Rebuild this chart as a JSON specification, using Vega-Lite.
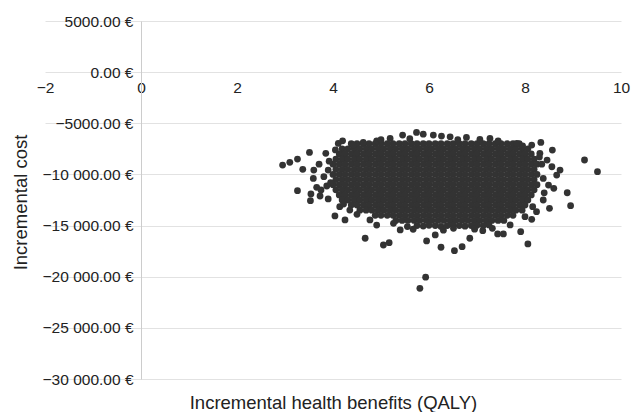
{
"$schema": "https://vega.github.io/schema/vega-lite/v6.json",
"width": 576,
"height": 358,
"autosize": {"type": "none"},
"padding": {"left": 45, "top": 21, "right": 12, "bottom": 33},
"background": "white",
"config": {"view": {"stroke": null}, "font": "Liberation Sans"},
"data": {"values": [
{"qaly":4.38,"cost":-7000},{"qaly":4.5,"cost":-7000},{"qaly":4.63,"cost":-7000},{"qaly":4.75,"cost":-7000},{"qaly":4.88,"cost":-7000},{"qaly":5.0,"cost":-7000},{"qaly":5.13,"cost":-7000},{"qaly":5.25,"cost":-7000},{"qaly":5.38,"cost":-7000},{"qaly":5.5,"cost":-7000},{"qaly":5.63,"cost":-7000},{"qaly":5.75,"cost":-7000},{"qaly":5.88,"cost":-7000},{"qaly":6.0,"cost":-7000},{"qaly":6.13,"cost":-7000},{"qaly":6.25,"cost":-7000},{"qaly":6.38,"cost":-7000},{"qaly":6.5,"cost":-7000},{"qaly":6.63,"cost":-7000},{"qaly":6.75,"cost":-7000},{"qaly":6.88,"cost":-7000},{"qaly":7.0,"cost":-7000},{"qaly":7.13,"cost":-7000},{"qaly":7.25,"cost":-7000},{"qaly":7.38,"cost":-7000},{"qaly":7.5,"cost":-7000},{"qaly":7.63,"cost":-7000},{"qaly":7.75,"cost":-7000},{"qaly":7.88,"cost":-7000},
{"qaly":4.19,"cost":-7500},{"qaly":4.31,"cost":-7500},{"qaly":4.44,"cost":-7500},{"qaly":4.56,"cost":-7500},{"qaly":4.69,"cost":-7500},{"qaly":4.81,"cost":-7500},{"qaly":4.94,"cost":-7500},{"qaly":5.06,"cost":-7500},{"qaly":5.19,"cost":-7500},{"qaly":5.31,"cost":-7500},{"qaly":5.44,"cost":-7500},{"qaly":5.56,"cost":-7500},{"qaly":5.69,"cost":-7500},{"qaly":5.81,"cost":-7500},{"qaly":5.94,"cost":-7500},{"qaly":6.06,"cost":-7500},{"qaly":6.19,"cost":-7500},{"qaly":6.31,"cost":-7500},{"qaly":6.44,"cost":-7500},{"qaly":6.56,"cost":-7500},{"qaly":6.69,"cost":-7500},{"qaly":6.81,"cost":-7500},{"qaly":6.94,"cost":-7500},{"qaly":7.06,"cost":-7500},{"qaly":7.19,"cost":-7500},{"qaly":7.31,"cost":-7500},{"qaly":7.44,"cost":-7500},{"qaly":7.56,"cost":-7500},{"qaly":7.69,"cost":-7500},{"qaly":7.81,"cost":-7500},{"qaly":7.94,"cost":-7500},{"qaly":8.06,"cost":-7500},
{"qaly":4.13,"cost":-8000},{"qaly":4.25,"cost":-8000},{"qaly":4.38,"cost":-8000},{"qaly":4.5,"cost":-8000},{"qaly":4.63,"cost":-8000},{"qaly":4.75,"cost":-8000},{"qaly":4.88,"cost":-8000},{"qaly":5.0,"cost":-8000},{"qaly":5.13,"cost":-8000},{"qaly":5.25,"cost":-8000},{"qaly":5.38,"cost":-8000},{"qaly":5.5,"cost":-8000},{"qaly":5.63,"cost":-8000},{"qaly":5.75,"cost":-8000},{"qaly":5.88,"cost":-8000},{"qaly":6.0,"cost":-8000},{"qaly":6.13,"cost":-8000},{"qaly":6.25,"cost":-8000},{"qaly":6.38,"cost":-8000},{"qaly":6.5,"cost":-8000},{"qaly":6.63,"cost":-8000},{"qaly":6.75,"cost":-8000},{"qaly":6.88,"cost":-8000},{"qaly":7.0,"cost":-8000},{"qaly":7.13,"cost":-8000},{"qaly":7.25,"cost":-8000},{"qaly":7.38,"cost":-8000},{"qaly":7.5,"cost":-8000},{"qaly":7.63,"cost":-8000},{"qaly":7.75,"cost":-8000},{"qaly":7.88,"cost":-8000},{"qaly":8.0,"cost":-8000},{"qaly":8.13,"cost":-8000},
{"qaly":4.06,"cost":-8500},{"qaly":4.19,"cost":-8500},{"qaly":4.31,"cost":-8500},{"qaly":4.44,"cost":-8500},{"qaly":4.56,"cost":-8500},{"qaly":4.69,"cost":-8500},{"qaly":4.81,"cost":-8500},{"qaly":4.94,"cost":-8500},{"qaly":5.06,"cost":-8500},{"qaly":5.19,"cost":-8500},{"qaly":5.31,"cost":-8500},{"qaly":5.44,"cost":-8500},{"qaly":5.56,"cost":-8500},{"qaly":5.69,"cost":-8500},{"qaly":5.81,"cost":-8500},{"qaly":5.94,"cost":-8500},{"qaly":6.06,"cost":-8500},{"qaly":6.19,"cost":-8500},{"qaly":6.31,"cost":-8500},{"qaly":6.44,"cost":-8500},{"qaly":6.56,"cost":-8500},{"qaly":6.69,"cost":-8500},{"qaly":6.81,"cost":-8500},{"qaly":6.94,"cost":-8500},{"qaly":7.06,"cost":-8500},{"qaly":7.19,"cost":-8500},{"qaly":7.31,"cost":-8500},{"qaly":7.44,"cost":-8500},{"qaly":7.56,"cost":-8500},{"qaly":7.69,"cost":-8500},{"qaly":7.81,"cost":-8500},{"qaly":7.94,"cost":-8500},{"qaly":8.06,"cost":-8500},{"qaly":8.19,"cost":-8500},
{"qaly":4.0,"cost":-9000},{"qaly":4.13,"cost":-9000},{"qaly":4.25,"cost":-9000},{"qaly":4.38,"cost":-9000},{"qaly":4.5,"cost":-9000},{"qaly":4.63,"cost":-9000},{"qaly":4.75,"cost":-9000},{"qaly":4.88,"cost":-9000},{"qaly":5.0,"cost":-9000},{"qaly":5.13,"cost":-9000},{"qaly":5.25,"cost":-9000},{"qaly":5.38,"cost":-9000},{"qaly":5.5,"cost":-9000},{"qaly":5.63,"cost":-9000},{"qaly":5.75,"cost":-9000},{"qaly":5.88,"cost":-9000},{"qaly":6.0,"cost":-9000},{"qaly":6.13,"cost":-9000},{"qaly":6.25,"cost":-9000},{"qaly":6.38,"cost":-9000},{"qaly":6.5,"cost":-9000},{"qaly":6.63,"cost":-9000},{"qaly":6.75,"cost":-9000},{"qaly":6.88,"cost":-9000},{"qaly":7.0,"cost":-9000},{"qaly":7.13,"cost":-9000},{"qaly":7.25,"cost":-9000},{"qaly":7.38,"cost":-9000},{"qaly":7.5,"cost":-9000},{"qaly":7.63,"cost":-9000},{"qaly":7.75,"cost":-9000},{"qaly":7.88,"cost":-9000},{"qaly":8.0,"cost":-9000},{"qaly":8.13,"cost":-9000},{"qaly":8.25,"cost":-9000},
{"qaly":4.06,"cost":-9500},{"qaly":4.19,"cost":-9500},{"qaly":4.31,"cost":-9500},{"qaly":4.44,"cost":-9500},{"qaly":4.56,"cost":-9500},{"qaly":4.69,"cost":-9500},{"qaly":4.81,"cost":-9500},{"qaly":4.94,"cost":-9500},{"qaly":5.06,"cost":-9500},{"qaly":5.19,"cost":-9500},{"qaly":5.31,"cost":-9500},{"qaly":5.44,"cost":-9500},{"qaly":5.56,"cost":-9500},{"qaly":5.69,"cost":-9500},{"qaly":5.81,"cost":-9500},{"qaly":5.94,"cost":-9500},{"qaly":6.06,"cost":-9500},{"qaly":6.19,"cost":-9500},{"qaly":6.31,"cost":-9500},{"qaly":6.44,"cost":-9500},{"qaly":6.56,"cost":-9500},{"qaly":6.69,"cost":-9500},{"qaly":6.81,"cost":-9500},{"qaly":6.94,"cost":-9500},{"qaly":7.06,"cost":-9500},{"qaly":7.19,"cost":-9500},{"qaly":7.31,"cost":-9500},{"qaly":7.44,"cost":-9500},{"qaly":7.56,"cost":-9500},{"qaly":7.69,"cost":-9500},{"qaly":7.81,"cost":-9500},{"qaly":7.94,"cost":-9500},{"qaly":8.06,"cost":-9500},{"qaly":8.19,"cost":-9500},
{"qaly":4.0,"cost":-10000},{"qaly":4.13,"cost":-10000},{"qaly":4.25,"cost":-10000},{"qaly":4.38,"cost":-10000},{"qaly":4.5,"cost":-10000},{"qaly":4.63,"cost":-10000},{"qaly":4.75,"cost":-10000},{"qaly":4.88,"cost":-10000},{"qaly":5.0,"cost":-10000},{"qaly":5.13,"cost":-10000},{"qaly":5.25,"cost":-10000},{"qaly":5.38,"cost":-10000},{"qaly":5.5,"cost":-10000},{"qaly":5.63,"cost":-10000},{"qaly":5.75,"cost":-10000},{"qaly":5.88,"cost":-10000},{"qaly":6.0,"cost":-10000},{"qaly":6.13,"cost":-10000},{"qaly":6.25,"cost":-10000},{"qaly":6.38,"cost":-10000},{"qaly":6.5,"cost":-10000},{"qaly":6.63,"cost":-10000},{"qaly":6.75,"cost":-10000},{"qaly":6.88,"cost":-10000},{"qaly":7.0,"cost":-10000},{"qaly":7.13,"cost":-10000},{"qaly":7.25,"cost":-10000},{"qaly":7.38,"cost":-10000},{"qaly":7.5,"cost":-10000},{"qaly":7.63,"cost":-10000},{"qaly":7.75,"cost":-10000},{"qaly":7.88,"cost":-10000},{"qaly":8.0,"cost":-10000},{"qaly":8.13,"cost":-10000},{"qaly":8.25,"cost":-10000},
{"qaly":4.06,"cost":-10500},{"qaly":4.19,"cost":-10500},{"qaly":4.31,"cost":-10500},{"qaly":4.44,"cost":-10500},{"qaly":4.56,"cost":-10500},{"qaly":4.69,"cost":-10500},{"qaly":4.81,"cost":-10500},{"qaly":4.94,"cost":-10500},{"qaly":5.06,"cost":-10500},{"qaly":5.19,"cost":-10500},{"qaly":5.31,"cost":-10500},{"qaly":5.44,"cost":-10500},{"qaly":5.56,"cost":-10500},{"qaly":5.69,"cost":-10500},{"qaly":5.81,"cost":-10500},{"qaly":5.94,"cost":-10500},{"qaly":6.06,"cost":-10500},{"qaly":6.19,"cost":-10500},{"qaly":6.31,"cost":-10500},{"qaly":6.44,"cost":-10500},{"qaly":6.56,"cost":-10500},{"qaly":6.69,"cost":-10500},{"qaly":6.81,"cost":-10500},{"qaly":6.94,"cost":-10500},{"qaly":7.06,"cost":-10500},{"qaly":7.19,"cost":-10500},{"qaly":7.31,"cost":-10500},{"qaly":7.44,"cost":-10500},{"qaly":7.56,"cost":-10500},{"qaly":7.69,"cost":-10500},{"qaly":7.81,"cost":-10500},{"qaly":7.94,"cost":-10500},{"qaly":8.06,"cost":-10500},{"qaly":8.19,"cost":-10500},
{"qaly":4.0,"cost":-11000},{"qaly":4.13,"cost":-11000},{"qaly":4.25,"cost":-11000},{"qaly":4.38,"cost":-11000},{"qaly":4.5,"cost":-11000},{"qaly":4.63,"cost":-11000},{"qaly":4.75,"cost":-11000},{"qaly":4.88,"cost":-11000},{"qaly":5.0,"cost":-11000},{"qaly":5.13,"cost":-11000},{"qaly":5.25,"cost":-11000},{"qaly":5.38,"cost":-11000},{"qaly":5.5,"cost":-11000},{"qaly":5.63,"cost":-11000},{"qaly":5.75,"cost":-11000},{"qaly":5.88,"cost":-11000},{"qaly":6.0,"cost":-11000},{"qaly":6.13,"cost":-11000},{"qaly":6.25,"cost":-11000},{"qaly":6.38,"cost":-11000},{"qaly":6.5,"cost":-11000},{"qaly":6.63,"cost":-11000},{"qaly":6.75,"cost":-11000},{"qaly":6.88,"cost":-11000},{"qaly":7.0,"cost":-11000},{"qaly":7.13,"cost":-11000},{"qaly":7.25,"cost":-11000},{"qaly":7.38,"cost":-11000},{"qaly":7.5,"cost":-11000},{"qaly":7.63,"cost":-11000},{"qaly":7.75,"cost":-11000},{"qaly":7.88,"cost":-11000},{"qaly":8.0,"cost":-11000},{"qaly":8.13,"cost":-11000},{"qaly":8.25,"cost":-11000},
{"qaly":4.06,"cost":-11500},{"qaly":4.19,"cost":-11500},{"qaly":4.31,"cost":-11500},{"qaly":4.44,"cost":-11500},{"qaly":4.56,"cost":-11500},{"qaly":4.69,"cost":-11500},{"qaly":4.81,"cost":-11500},{"qaly":4.94,"cost":-11500},{"qaly":5.06,"cost":-11500},{"qaly":5.19,"cost":-11500},{"qaly":5.31,"cost":-11500},{"qaly":5.44,"cost":-11500},{"qaly":5.56,"cost":-11500},{"qaly":5.69,"cost":-11500},{"qaly":5.81,"cost":-11500},{"qaly":5.94,"cost":-11500},{"qaly":6.06,"cost":-11500},{"qaly":6.19,"cost":-11500},{"qaly":6.31,"cost":-11500},{"qaly":6.44,"cost":-11500},{"qaly":6.56,"cost":-11500},{"qaly":6.69,"cost":-11500},{"qaly":6.81,"cost":-11500},{"qaly":6.94,"cost":-11500},{"qaly":7.06,"cost":-11500},{"qaly":7.19,"cost":-11500},{"qaly":7.31,"cost":-11500},{"qaly":7.44,"cost":-11500},{"qaly":7.56,"cost":-11500},{"qaly":7.69,"cost":-11500},{"qaly":7.81,"cost":-11500},{"qaly":7.94,"cost":-11500},{"qaly":8.06,"cost":-11500},{"qaly":8.19,"cost":-11500},
{"qaly":4.13,"cost":-12000},{"qaly":4.25,"cost":-12000},{"qaly":4.38,"cost":-12000},{"qaly":4.5,"cost":-12000},{"qaly":4.63,"cost":-12000},{"qaly":4.75,"cost":-12000},{"qaly":4.88,"cost":-12000},{"qaly":5.0,"cost":-12000},{"qaly":5.13,"cost":-12000},{"qaly":5.25,"cost":-12000},{"qaly":5.38,"cost":-12000},{"qaly":5.5,"cost":-12000},{"qaly":5.63,"cost":-12000},{"qaly":5.75,"cost":-12000},{"qaly":5.88,"cost":-12000},{"qaly":6.0,"cost":-12000},{"qaly":6.13,"cost":-12000},{"qaly":6.25,"cost":-12000},{"qaly":6.38,"cost":-12000},{"qaly":6.5,"cost":-12000},{"qaly":6.63,"cost":-12000},{"qaly":6.75,"cost":-12000},{"qaly":6.88,"cost":-12000},{"qaly":7.0,"cost":-12000},{"qaly":7.13,"cost":-12000},{"qaly":7.25,"cost":-12000},{"qaly":7.38,"cost":-12000},{"qaly":7.5,"cost":-12000},{"qaly":7.63,"cost":-12000},{"qaly":7.75,"cost":-12000},{"qaly":7.88,"cost":-12000},{"qaly":8.0,"cost":-12000},{"qaly":8.13,"cost":-12000},
{"qaly":4.19,"cost":-12500},{"qaly":4.31,"cost":-12500},{"qaly":4.44,"cost":-12500},{"qaly":4.56,"cost":-12500},{"qaly":4.69,"cost":-12500},{"qaly":4.81,"cost":-12500},{"qaly":4.94,"cost":-12500},{"qaly":5.06,"cost":-12500},{"qaly":5.19,"cost":-12500},{"qaly":5.31,"cost":-12500},{"qaly":5.44,"cost":-12500},{"qaly":5.56,"cost":-12500},{"qaly":5.69,"cost":-12500},{"qaly":5.81,"cost":-12500},{"qaly":5.94,"cost":-12500},{"qaly":6.06,"cost":-12500},{"qaly":6.19,"cost":-12500},{"qaly":6.31,"cost":-12500},{"qaly":6.44,"cost":-12500},{"qaly":6.56,"cost":-12500},{"qaly":6.69,"cost":-12500},{"qaly":6.81,"cost":-12500},{"qaly":6.94,"cost":-12500},{"qaly":7.06,"cost":-12500},{"qaly":7.19,"cost":-12500},{"qaly":7.31,"cost":-12500},{"qaly":7.44,"cost":-12500},{"qaly":7.56,"cost":-12500},{"qaly":7.69,"cost":-12500},{"qaly":7.81,"cost":-12500},{"qaly":7.94,"cost":-12500},{"qaly":8.06,"cost":-12500},
{"qaly":4.38,"cost":-13000},{"qaly":4.5,"cost":-13000},{"qaly":4.63,"cost":-13000},{"qaly":4.75,"cost":-13000},{"qaly":4.88,"cost":-13000},{"qaly":5.0,"cost":-13000},{"qaly":5.13,"cost":-13000},{"qaly":5.25,"cost":-13000},{"qaly":5.38,"cost":-13000},{"qaly":5.5,"cost":-13000},{"qaly":5.63,"cost":-13000},{"qaly":5.75,"cost":-13000},{"qaly":5.88,"cost":-13000},{"qaly":6.0,"cost":-13000},{"qaly":6.13,"cost":-13000},{"qaly":6.25,"cost":-13000},{"qaly":6.38,"cost":-13000},{"qaly":6.5,"cost":-13000},{"qaly":6.63,"cost":-13000},{"qaly":6.75,"cost":-13000},{"qaly":6.88,"cost":-13000},{"qaly":7.0,"cost":-13000},{"qaly":7.13,"cost":-13000},{"qaly":7.25,"cost":-13000},{"qaly":7.38,"cost":-13000},{"qaly":7.5,"cost":-13000},{"qaly":7.63,"cost":-13000},{"qaly":7.75,"cost":-13000},{"qaly":7.88,"cost":-13000},{"qaly":8.0,"cost":-13000},
{"qaly":4.56,"cost":-13500},{"qaly":4.69,"cost":-13500},{"qaly":4.81,"cost":-13500},{"qaly":4.94,"cost":-13500},{"qaly":5.06,"cost":-13500},{"qaly":5.19,"cost":-13500},{"qaly":5.31,"cost":-13500},{"qaly":5.44,"cost":-13500},{"qaly":5.56,"cost":-13500},{"qaly":5.69,"cost":-13500},{"qaly":5.81,"cost":-13500},{"qaly":5.94,"cost":-13500},{"qaly":6.06,"cost":-13500},{"qaly":6.19,"cost":-13500},{"qaly":6.31,"cost":-13500},{"qaly":6.44,"cost":-13500},{"qaly":6.56,"cost":-13500},{"qaly":6.69,"cost":-13500},{"qaly":6.81,"cost":-13500},{"qaly":6.94,"cost":-13500},{"qaly":7.06,"cost":-13500},{"qaly":7.19,"cost":-13500},{"qaly":7.31,"cost":-13500},{"qaly":7.44,"cost":-13500},{"qaly":7.56,"cost":-13500},{"qaly":7.69,"cost":-13500},{"qaly":7.81,"cost":-13500},{"qaly":7.94,"cost":-13500},
{"qaly":4.88,"cost":-14000},{"qaly":5.0,"cost":-14000},{"qaly":5.13,"cost":-14000},{"qaly":5.25,"cost":-14000},{"qaly":5.38,"cost":-14000},{"qaly":5.5,"cost":-14000},{"qaly":5.63,"cost":-14000},{"qaly":5.75,"cost":-14000},{"qaly":5.88,"cost":-14000},{"qaly":6.0,"cost":-14000},{"qaly":6.13,"cost":-14000},{"qaly":6.25,"cost":-14000},{"qaly":6.38,"cost":-14000},{"qaly":6.5,"cost":-14000},{"qaly":6.63,"cost":-14000},{"qaly":6.75,"cost":-14000},{"qaly":6.88,"cost":-14000},{"qaly":7.0,"cost":-14000},{"qaly":7.13,"cost":-14000},{"qaly":7.25,"cost":-14000},{"qaly":7.38,"cost":-14000},{"qaly":7.5,"cost":-14000},{"qaly":7.63,"cost":-14000},{"qaly":7.75,"cost":-14000},
{"qaly":5.31,"cost":-14500},{"qaly":5.44,"cost":-14500},{"qaly":5.56,"cost":-14500},{"qaly":5.69,"cost":-14500},{"qaly":5.81,"cost":-14500},{"qaly":5.94,"cost":-14500},{"qaly":6.06,"cost":-14500},{"qaly":6.19,"cost":-14500},{"qaly":6.31,"cost":-14500},{"qaly":6.44,"cost":-14500},{"qaly":6.56,"cost":-14500},{"qaly":6.69,"cost":-14500},{"qaly":6.81,"cost":-14500},{"qaly":6.94,"cost":-14500},{"qaly":7.06,"cost":-14500},{"qaly":7.19,"cost":-14500},{"qaly":7.31,"cost":-14500},{"qaly":7.44,"cost":-14500},{"qaly":7.56,"cost":-14500},
{"qaly":5.75,"cost":-15000},{"qaly":5.88,"cost":-15050},{"qaly":6.0,"cost":-14980},{"qaly":6.13,"cost":-15000},{"qaly":6.25,"cost":-15080},{"qaly":6.38,"cost":-15000},{"qaly":6.5,"cost":-14950},{"qaly":6.63,"cost":-15000},{"qaly":6.75,"cost":-15060},{"qaly":6.88,"cost":-15000},{"qaly":7.0,"cost":-14970},{"qaly":7.13,"cost":-15000},{"qaly":7.25,"cost":-14940},
{"qaly":2.95,"cost":-9080},{"qaly":3.1,"cost":-8820},{"qaly":3.26,"cost":-8500},{"qaly":3.51,"cost":-7850},{"qaly":3.37,"cost":-9500},{"qaly":3.26,"cost":-11590},{"qaly":3.53,"cost":-12570},{"qaly":3.73,"cost":-12110},
{"qaly":3.6,"cost":-9570},{"qaly":3.59,"cost":-10390},{"qaly":3.66,"cost":-11260},{"qaly":3.87,"cost":-11130},{"qaly":3.81,"cost":-10220},{"qaly":3.71,"cost":-9000},{"qaly":3.85,"cost":-7940},{"qaly":3.9,"cost":-9570},{"qaly":3.54,"cost":-11910},{"qaly":3.75,"cost":-11520},{"qaly":3.92,"cost":-8700},{"qaly":3.9,"cost":-12400},{"qaly":3.95,"cost":-10800},
{"qaly":4.04,"cost":-14060},{"qaly":4.25,"cost":-14450},{"qaly":4.14,"cost":-13150},{"qaly":4.35,"cost":-13480},{"qaly":4.22,"cost":-12900},{"qaly":4.5,"cost":-13900},{"qaly":4.67,"cost":-16240},{"qaly":5.05,"cost":-16900},{"qaly":5.17,"cost":-16670},{"qaly":4.77,"cost":-14450},{"qaly":4.91,"cost":-14950},{"qaly":5.26,"cost":-14780},{"qaly":5.4,"cost":-15430},{"qaly":5.67,"cost":-15360},{"qaly":5.95,"cost":-16500},{"qaly":6.25,"cost":-17120},{"qaly":6.53,"cost":-17450},{"qaly":6.69,"cost":-17060},{"qaly":5.93,"cost":-20050},{"qaly":5.81,"cost":-21130},{"qaly":6.13,"cost":-15920},{"qaly":6.51,"cost":-15270},{"qaly":6.85,"cost":-16240},{"qaly":7.12,"cost":-15500},{"qaly":7.32,"cost":-15270},{"qaly":7.43,"cost":-15820},{"qaly":7.55,"cost":-15820},{"qaly":7.69,"cost":-14940},{"qaly":7.91,"cost":-15600},{"qaly":8.06,"cost":-16800},{"qaly":8.14,"cost":-14390},{"qaly":8.0,"cost":-14130},{"qaly":8.24,"cost":-13640},{"qaly":8.16,"cost":-13150},{"qaly":6.3,"cost":-15450},{"qaly":5.55,"cost":-15100},{"qaly":6.95,"cost":-15350},
{"qaly":8.51,"cost":-13310},{"qaly":8.38,"cost":-12500},{"qaly":8.6,"cost":-11360},{"qaly":8.66,"cost":-10060},{"qaly":8.56,"cost":-9250},{"qaly":8.46,"cost":-8600},{"qaly":8.38,"cost":-10390},{"qaly":8.49,"cost":-11040},{"qaly":8.33,"cost":-6870},{"qaly":8.14,"cost":-7130},{"qaly":8.57,"cost":-7620},{"qaly":8.31,"cost":-7940},{"qaly":8.95,"cost":-13050},{"qaly":8.88,"cost":-11790},{"qaly":9.24,"cost":-8590},{"qaly":9.51,"cost":-9730},{"qaly":8.73,"cost":-9570},{"qaly":8.35,"cost":-9000},{"qaly":8.4,"cost":-11800},{"qaly":8.3,"cost":-8300},
{"qaly":5.45,"cost":-6150},{"qaly":5.74,"cost":-5890},{"qaly":5.88,"cost":-6060},{"qaly":6.09,"cost":-6150},{"qaly":6.26,"cost":-6250},{"qaly":6.44,"cost":-6320},{"qaly":7.27,"cost":-6480},{"qaly":7.44,"cost":-6710},{"qaly":7.83,"cost":-6970},{"qaly":4.91,"cost":-6710},{"qaly":4.63,"cost":-6870},{"qaly":4.2,"cost":-6710},{"qaly":4.11,"cost":-6970},{"qaly":4.42,"cost":-7130},{"qaly":5.19,"cost":-6480},{"qaly":6.78,"cost":-6380},{"qaly":7.06,"cost":-6580},{"qaly":5.6,"cost":-6500},{"qaly":6.6,"cost":-6600},{"qaly":5.0,"cost":-6600},{"qaly":4.05,"cost":-7600},{"qaly":7.95,"cost":-7200}
]},
"mark": {"type": "circle", "size": 46, "color": "#333333", "opacity": 1},
"encoding": {
  "x": {"field": "qaly", "type": "quantitative",
    "scale": {"domain": [-2, 10], "nice": false, "zero": false},
    "axis": {"values": [-2, 0, 2, 4, 6, 8, 10], "offset": -307, "domain": false, "ticks": false, "tickSize": 0, "grid": false,
      "labelPadding": 8, "labelFontSize": 15.5, "labelColor": "#222222", "labelFont": "Liberation Sans", "labelFlush": false, "labelOverlap": false,
      "title": "Incremental health benefits (QALY)", "titleFont": "Liberation Sans", "titleFontSize": 18.5, "titleFontWeight": "normal", "titleColor": "#222222",
      "titleX": 288, "titleY": 336, "titleBaseline": "alphabetic", "titleAlign": "center"}},
  "y": {"field": "cost", "type": "quantitative",
    "scale": {"domain": [-30000, 5000], "nice": false, "zero": false},
    "axis": {"values": [-30000, -25000, -20000, -15000, -10000, -5000, 0, 5000], "offset": -96,
      "domain": true, "domainColor": "#cccccc", "domainWidth": 1, "ticks": false, "tickSize": 0,
      "grid": true, "gridColor": "#e2e2e2", "gridWidth": 1,
      "labelPadding": 8, "labelFontSize": 15.5, "labelColor": "#222222", "labelFont": "Liberation Sans", "labelFlush": false, "labelOverlap": false,
      "labelExpr": "(datum.value < 0 ? '\u2212' : '') + (abs(datum.value) >= 10000 ? replace(format(abs(datum.value), ',.2f'), ',', ' ') + ' €' : format(abs(datum.value), '.2f') + ' €\u00a0')",
      "title": "Incremental cost", "titleFont": "Liberation Sans", "titleFontSize": 18.5, "titleFontWeight": "normal", "titleColor": "#222222",
      "titleX": -115, "titleY": 181, "titleAngle": -90, "titleBaseline": "alphabetic", "titleAlign": "center"}}
}
}
